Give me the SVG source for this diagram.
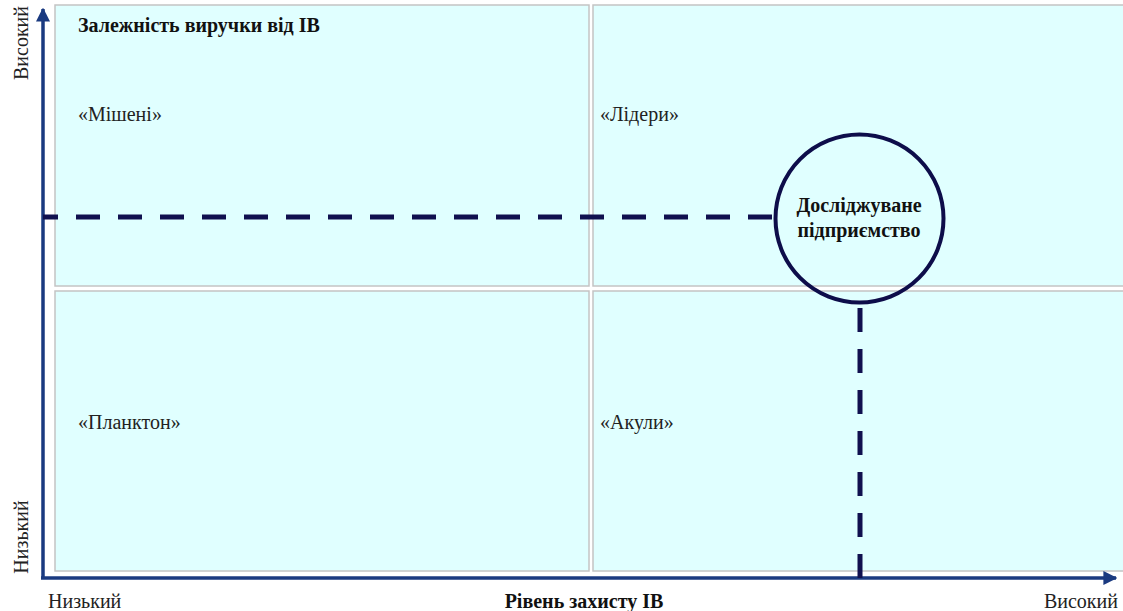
<svg xmlns="http://www.w3.org/2000/svg" width="1123" height="611" viewBox="0 0 1123 611">
<style>
.q{fill:#e0ffff;stroke:#c4c4c4;stroke-width:1.5}
.t{font-family:"Liberation Serif",serif;font-size:20px;fill:#222}
.b{font-family:"Liberation Serif",serif;font-size:20px;font-weight:bold;fill:#111}
.ax{stroke:#1a3a80;stroke-width:3.5;fill:none}
.d{stroke:#10104f;stroke-width:5;fill:none}
</style>
<defs>
<marker id="ah" viewBox="0 0 10 10" refX="9" refY="5" markerWidth="4" markerHeight="4" orient="auto" markerUnits="strokeWidth">
<path d="M0,0 L10,5 L0,10 z" fill="#1a3a80"/>
</marker>
</defs>
<rect width="1123" height="611" fill="#fff"/>
<g id="quadrants">
<rect id="q-mishen" class="q" x="55" y="5" width="534" height="281"/>
<rect id="q-lidery" class="q" x="593" y="5" width="534" height="281"/>
<rect id="q-plankton" class="q" x="55" y="291" width="534" height="280"/>
<rect id="q-akuly" class="q" x="593" y="291" width="534" height="280"/>
</g>
<g id="connectors">
<path class="ax" d="M43,579 L43,9" marker-end="url(#ah)"/>
<path class="ax" d="M41,578 L1116,578" marker-end="url(#ah)"/>
<path class="d" d="M43,217 L776,217" stroke-dasharray="24 18" stroke-dashoffset="9"/>
<path class="d" d="M860,304 L860,578" stroke-dasharray="24 17" stroke-dashoffset="37"/>
</g>
<g id="labels">
<text class="b" x="78" y="32">Залежність виручки від ІВ</text>
<text class="t" x="78" y="121">«Мішені»</text>
<text class="t" x="600" y="121">«Лідери»</text>
<text class="t" x="78" y="429">«Планктон»</text>
<text class="t" x="600" y="429">«Акули»</text>
<text class="t" transform="translate(28,43) rotate(-90)" text-anchor="middle">Високий</text>
<text class="t" transform="translate(28,537) rotate(-90)" text-anchor="middle">Низький</text>
<text class="t" x="48" y="608">Низький</text>
<text class="b" x="584" y="608" text-anchor="middle">Рівень захисту ІВ</text>
<text class="t" x="1118" y="608" text-anchor="end">Високий</text>
</g>
<g id="node-company">
<circle cx="859.5" cy="218.5" r="84" fill="none" stroke="#0d0d4a" stroke-width="4"/>
<text class="b" x="859" y="212" text-anchor="middle">Досліджуване</text>
<text class="b" x="859" y="237" text-anchor="middle">підприємство</text>
</g>
</svg>
